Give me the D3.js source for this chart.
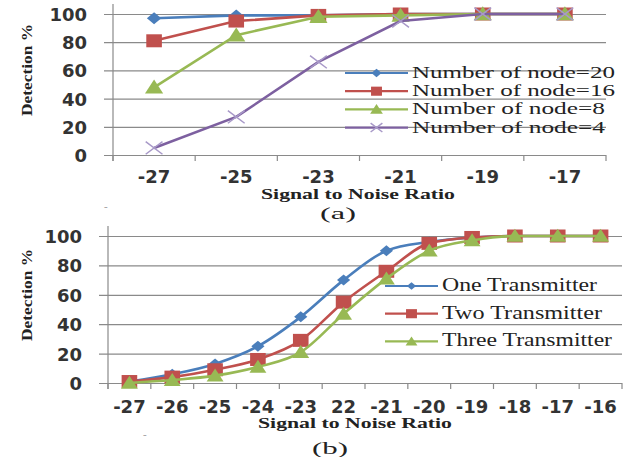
<!DOCTYPE html>
<html>
<head>
<meta charset="utf-8">
<script src="https://cdn.jsdelivr.net/npm/d3@7"></script>
<style>
  body { margin: 0; background: #fff; }
</style>
</head>
<body>
<script>
// ---- chart (a) data
var snrA = ["-27", "-25", "-23", "-21", "-19", "-17"];
var node20 = [97, 99, 99, 100, 100, 100];
var node16 = [81, 95, 99, 100, 100, 100];
var node8 = [48, 85, 98, 99, 100, 100];
var node4 = [5, 27, 66, 95, 100, 100];
var namesA = ["Number of node=20", "Number of node=16", "Number of node=8", "Number of node=4"];

// ---- chart (b) data
var snrB = ["-27", "-26", "-25", "-24", "-23", "22", "-21", "-20", "-19", "-18", "-17", "-16"];
var oneTx = [1, 6, 13, 25, 45, 70, 90, 96, 99, 100, 100, 100];
var twoTx = [1, 4, 9, 16, 29, 55, 76, 95, 99, 100, 100, 100];
var threeTx = [0, 2, 5, 11, 21, 47, 71, 90, 97, 100, 100, 100];
var namesB = ["One Transmitter", "Two Transmitter", "Three Transmitter"];

var yTicks = [0, 20, 40, 60, 80, 100];

var colors = {blue: "#4a7ebb", red: "#c0504d", green: "#98b954", purple: "#7d60a0"};
var SERIF = "'Liberation Serif', 'Times New Roman', serif";
var SANS = "'DejaVu Sans', Verdana, sans-serif";

var svg = d3.select("body").append("svg")
  .attr("width", 632).attr("height", 457);

function marker(g, type, color, s) {
  if (type == "diamond") {
    g.append("path").attr("d", "M0," + (-s * 0.5) + "L" + (s * 0.6) + ",0L0," + (s * 0.5) + "L" + (-s * 0.6) + ",0Z")
      .attr("fill", color);
  } else if (type == "square") {
    g.append("rect").attr("x", -s * 0.6).attr("y", -s * 0.5).attr("width", s * 1.2).attr("height", s)
      .attr("fill", color);
  } else if (type == "triangle") {
    g.append("path").attr("d", "M0," + (-s * 0.55) + "L" + (s * 0.65) + "," + (s * 0.45) + "L" + (-s * 0.65) + "," + (s * 0.45) + "Z")
      .attr("fill", color);
  } else if (type == "x") {
    g.append("path").attr("d", "M" + (-s * 0.6) + "," + (-s * 0.45) + "L" + (s * 0.6) + "," + (s * 0.45)
      + "M" + (-s * 0.6) + "," + (s * 0.45) + "L" + (s * 0.6) + "," + (-s * 0.45))
      .attr("stroke", "#a899c8").attr("stroke-width", 1.5).attr("fill", "none");
  }
}

function serifText(g) {
  return g.append("text").style("font-family", SERIF).attr("fill", "#222");
}

function drawChart(opt) {
  var x = d3.scaleBand().domain(opt.cats).range([opt.left, opt.right]);
  var y = d3.scaleLinear().domain([0, 100]).range([opt.bottom, opt.top]);
  var g = svg.append("g");

  // gridlines + y labels
  var ya = g.append("g").attr("transform", "translate(" + opt.left + ",0)")
    .call(d3.axisLeft(y).tickValues(yTicks).tickSize(-(opt.right - opt.left)).tickPadding(opt.ypad));
  ya.select(".domain").remove();
  ya.selectAll(".tick line").attr("x1", -9).attr("stroke", "#8a8a8a").attr("stroke-width", 1.2);
  ya.selectAll(".tick text").style("font-family", SANS).style("font-weight", "bold")
    .style("font-size", "18px").attr("fill", "#333").attr("dy", "0.36em");

  // y axis line
  g.append("line").attr("x1", opt.left).attr("x2", opt.left)
    .attr("y1", opt.top - 10).attr("y2", opt.bottom + 6)
    .attr("stroke", "#8a8a8a").attr("stroke-width", 1.2);

  // x tick marks at band edges
  var edges = opt.cats.map(function(c) { return x(c); }).concat([opt.right]);
  g.selectAll(".xt").data(edges).enter().append("line")
    .attr("x1", function(d) { return d; }).attr("x2", function(d) { return d; })
    .attr("y1", opt.bottom).attr("y2", opt.bottom + 6)
    .attr("stroke", "#8a8a8a").attr("stroke-width", 1.2);

  var xa = g.append("g").attr("transform", "translate(0," + opt.bottom + ")")
    .call(d3.axisBottom(x).tickSize(0).tickPadding(opt.xpad));
  xa.select(".domain").remove();
  xa.selectAll(".tick text").style("font-family", SANS).style("font-weight", "bold")
    .style("font-size", opt.xfs + "px").attr("fill", "#333");

  // series
  opt.series.forEach(function(s) {
    var line = d3.line()
      .x(function(d, i) { return x(opt.cats[i]) + x.bandwidth() / 2; })
      .y(function(d) { return y(d); })
      .curve(opt.curve);
    g.append("path").datum(s.values).attr("d", line)
      .attr("fill", "none").attr("stroke", s.color).attr("stroke-width", 2.6);
    s.values.forEach(function(v, i) {
      var m = g.append("g").attr("transform", "translate(" + (x(opt.cats[i]) + x.bandwidth() / 2) + "," + y(v) + ")");
      marker(m, s.marker, s.color, s.size);
    });
  });

  // legend
  opt.series.forEach(function(s, i) {
    var ly = opt.legY + i * opt.legStep;
    g.append("line").attr("x1", opt.legX).attr("x2", opt.legX + opt.legLen)
      .attr("y1", ly).attr("y2", ly).attr("stroke", s.color).attr("stroke-width", 2.2);
    var m = g.append("g").attr("transform", "translate(" + (opt.legX + opt.legLen / 2) + "," + ly + ")");
    marker(m, s.marker, s.color, s.size * 0.7);
    serifText(g)
      .attr("x", opt.legX + opt.legLen + 4).attr("y", ly + 5)
      .attr("textLength", opt.legW[i]).attr("lengthAdjust", "spacingAndGlyphs")
      .style("font-size", opt.legFs + "px").text(s.name);
  });

  // axis titles
  serifText(g)
    .attr("transform", "translate(" + 32 + "," + opt.ytitleY + ") rotate(-90)")
    .attr("text-anchor", "middle").style("font-size", "15px").style("font-weight", "bold")
    .attr("textLength", 92).attr("lengthAdjust", "spacingAndGlyphs")
    .text("Detection %");
  serifText(g)
    .attr("x", opt.xtitleX).attr("y", opt.xtitleY).attr("text-anchor", "middle")
    .style("font-size", "15px").style("font-weight", "bold")
    .attr("textLength", 194).attr("lengthAdjust", "spacingAndGlyphs")
    .text("Signal to Noise Ratio");
  serifText(g)
    .attr("x", opt.capX).attr("y", opt.capY).attr("text-anchor", "middle")
    .style("font-size", "17px")
    .attr("textLength", 36).attr("lengthAdjust", "spacingAndGlyphs")
    .text(opt.caption);
  serifText(g)
    .attr("x", opt.dashX).attr("y", opt.dashY).style("font-size", "11px").attr("fill", "#999")
    .text("-");
}

drawChart({
  cats: snrA, left: 113, right: 606, top: 14, bottom: 155, ypad: 26, xpad: 15, xfs: 18,
  curve: d3.curveLinear,
  series: [
    {name: namesA[0], values: node20, color: colors.blue, marker: "diamond", size: 12},
    {name: namesA[1], values: node16, color: colors.red, marker: "square", size: 13},
    {name: namesA[2], values: node8, color: colors.green, marker: "triangle", size: 14},
    {name: namesA[3], values: node4, color: colors.purple, marker: "x", size: 14}
  ],
  legX: 345, legLen: 63, legY: 73, legStep: 18.2, legFs: 17, legW: [203, 203, 193, 193],
  ytitleY: 70, xtitleX: 358, xtitleY: 199, capX: 338, capY: 219, caption: "(a)",
  dashX: 104, dashY: 210
});

drawChart({
  cats: snrB, left: 108, right: 622, top: 236, bottom: 383, ypad: 26, xpad: 17, xfs: 18,
  curve: d3.curveMonotoneX,
  series: [
    {name: namesB[0], values: oneTx, color: colors.blue, marker: "diamond", size: 11},
    {name: namesB[1], values: twoTx, color: colors.red, marker: "square", size: 13},
    {name: namesB[2], values: threeTx, color: colors.green, marker: "triangle", size: 13}
  ],
  legX: 385, legLen: 53, legY: 286, legStep: 27.7, legFs: 19, legW: [155, 160, 170],
  ytitleY: 295, xtitleX: 355, xtitleY: 428, capX: 330, capY: 454, caption: "(b)",
  dashX: 143, dashY: 438
});
</script>
</body>
</html>
